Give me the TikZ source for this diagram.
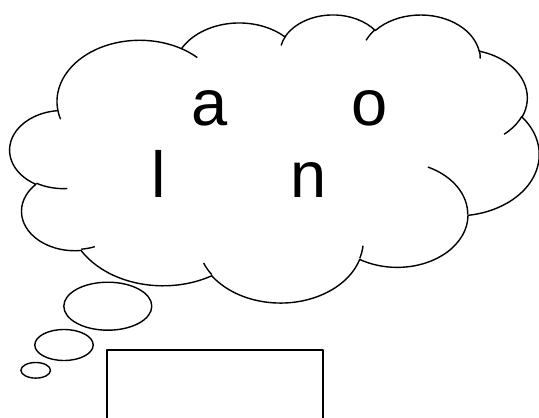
\documentclass[tikz,border=0pt]{standalone}
\usepackage{fontspec}
\setmainfont{Liberation Sans}
% elliptical arc given by visual start angle and sweep (DrawingML style)
\newcommand\oarc[4]{arc[x radius=#1, y radius=#2,
  start angle={atan2((#1)*sin(#3),(#2)*cos(#3))},
  delta angle={Mod(atan2((#1)*sin((#3)+(#4)),(#2)*cos((#3)+(#4)))-atan2((#1)*sin(#3),(#2)*cos(#3)),360)}]}
\tikzset{
  outline/.style={draw=black, line width=1.4pt},
  letter/.style={font=\fontsize{65}{72}\selectfont, anchor=base, inner sep=0pt},
}
\begin{document}
\begin{tikzpicture}[x=1pt,y=-1pt,line join=round]
\useasboundingbox (0,0) rectangle (539,418);
\clip (0,0) rectangle (539,418);
\begin{scope}[shift={(10pt,-14pt)}, x=1.22454pt, y=-0.666667pt]
\path[outline, fill=white] (39.00,143.70)
  \oarc{67.53}{91.90}{-190.4875}{123.7805}
  \oarc{53.33}{72.67}{-144.1024}{89.9452}
  \oarc{43.65}{59.45}{-145.8079}{99.7230}
  \oarc{48.57}{65.95}{-130.9861}{117.2417}
  \oarc{53.33}{72.73}{-78.7089}{109.0269}
  \oarc{67.75}{92.20}{-46.2673}{130.2690}
  \oarc{57.85}{78.67}{0.6250}{114.0333}
  \oarc{67.52}{92.15}{22.4516}{115.1726}
  \oarc{77.20}{105.43}{66.2426}{75.7110}
  \oarc{43.60}{59.18}{-274.9421}{146.7356}
  \oarc{43.45}{59.45}{-246.8285}{152.5189}
  -- cycle;
\path[outline]
  (46.93,261.77) \oarc{43.45}{59.45}{86.7420}{26.4295}
  (69.28,348.99) \oarc{43.60}{59.18}{73.6105}{11.4475}
  (164.78,390.90) \oarc{67.52}{92.15}{137.6242}{14.0811}
  (288.27,347.51) \oarc{67.52}{92.15}{6.4533}{15.9984}
  (341.29,229.54) \oarc{57.85}{78.67}{-70.2924}{70.9174}
  (417.98,153.54) \oarc{53.33}{72.73}{30.3180}{27.7515}
  (383.24,54.26) \oarc{48.57}{65.95}{-13.7443}{14.8589}
  (290.78,39.52) \oarc{48.57}{65.95}{-149.1815}{18.1954}
  (221.41,47.20) \oarc{43.65}{59.45}{-163.4943}{17.6864}
  (140.00,51.92) \oarc{67.53}{91.90}{-66.7070}{12.3194}
  (41.27,157.89) \oarc{67.53}{91.90}{157.6544}{11.8582};
\end{scope}
\draw[outline] (107.8,306.2) ellipse[x radius=44, y radius=24];
\draw[outline] (64,345) ellipse[x radius=29.2, y radius=15.5];
\draw[outline] (35.7,370.3) ellipse[x radius=14.8, y radius=7.8];
\draw[line width=2pt] (107,350.3) rectangle (323,440);
\node[letter] (la) at (209.6,125) {a};
\node[letter] (lo) at (369.9,125) {o};
\node[letter] (ll) at (158.8,197.3) {l};
\node[letter] (ln) at (308.5,197.3) {n};
\end{tikzpicture}
\end{document}
